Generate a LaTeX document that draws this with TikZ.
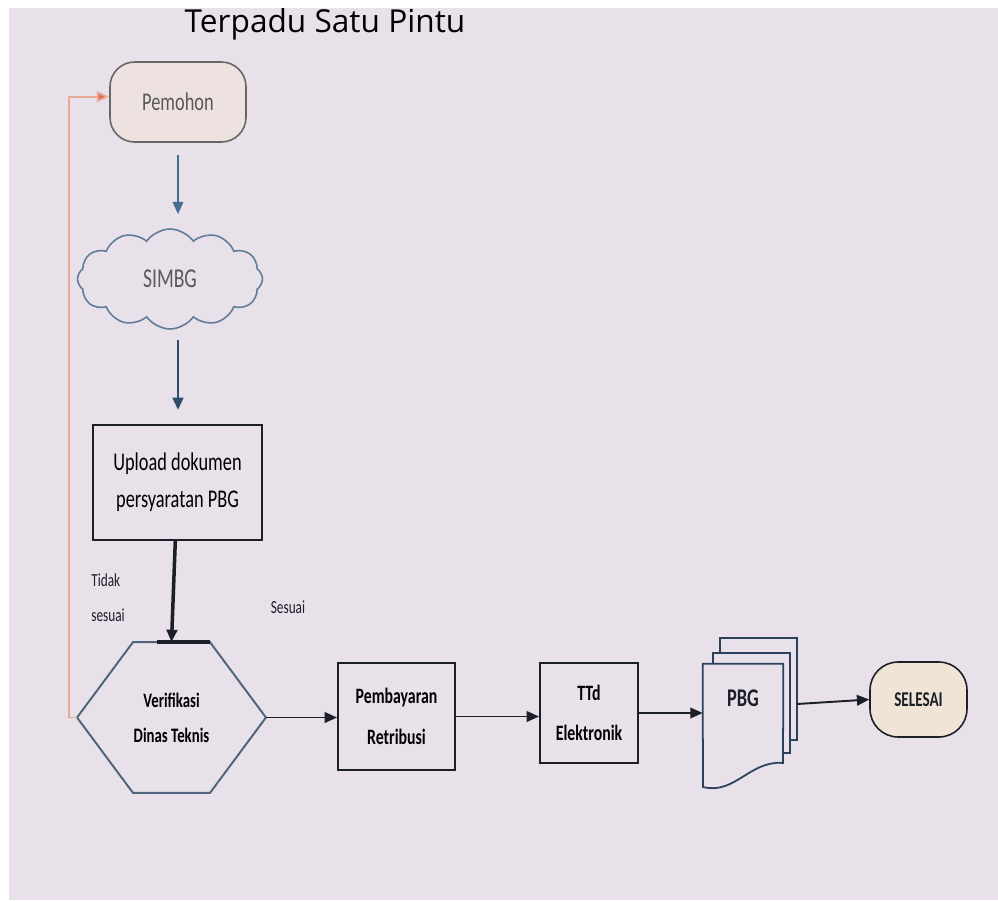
\documentclass[tikz,border=0pt]{standalone}
\usepackage{fontspec}
\usetikzlibrary{shapes.symbols,arrows.meta,calc}
\newfontfamily\diagfont[FakeStretch=0.72]{Carlito}
\newfontfamily\titlefont{Open Sans}
\definecolor{screenbg}{RGB}{232,225,234}
\definecolor{termfill}{RGB}{238,226,224}
\definecolor{endfill}{RGB}{240,228,214}
\definecolor{steel}{RGB}{70,108,148}
\definecolor{cloudline}{RGB}{96,124,152}
\definecolor{inkline}{RGB}{28,30,40}
\definecolor{backline}{RGB}{232,170,150}
\definecolor{backtip}{RGB}{226,108,68}
\tikzset{
  terminal/.style={draw=gray!80!black,fill=termfill,rounded corners=14pt,line width=0.9pt,
    minimum width=2.72cm,minimum height=1.6cm,text=gray!70!black,
    font=\diagfont\fontsize{14.5}{16}\selectfont},
  procbox/.style={draw=inkline,line width=1.1pt,align=center,
    font=\diagfont\bfseries\fontsize{12.5}{23}\selectfont},
  flow/.style={-{Triangle[length=7pt,width=6pt]},line width=1.1pt,draw=inkline},
  remark/.style={align=left,font=\diagfont\fontsize{10.5}{20}\selectfont,text=inkline}
}
\begin{document}
\begin{tikzpicture}[x=0.02cm,y=-0.02cm]
  \useasboundingbox (0,0) rectangle (998,900);
  \fill[white] (0,0) rectangle (998,900);
  \fill[screenbg] (9,8) rectangle (998,900);

  \node[font=\titlefont\fontsize{18}{20}\selectfont] (title) at (325,24) {Terpadu Satu Pintu};

  % left column
  \node[terminal] (pemohon) at (178,102) {Pemohon};
  \node[cloud,cloud puffs=12,cloud puff arc=110,aspect=1.8,draw=cloudline,line width=0.9pt,
    minimum width=3.7cm,minimum height=2.0cm,text=gray!70!black,
    font=\diagfont\fontsize{15.5}{16}\selectfont] (simbg) at (170,279) {SIMBG};
  \node[procbox,font=\diagfont\fontsize{14.5}{21}\selectfont,
    minimum width=3.38cm,minimum height=2.3cm] (upload) at (177.5,482.5)
    {Upload dokumen\\persyaratan PBG};

  % decision, drawn as a flat hexagon round the node
  \node[procbox,draw=none,font=\diagfont\bfseries\fontsize{11.7}{20}\selectfont,
    minimum width=3.74cm,minimum height=2.98cm] (verif) at (171.5,717.5)
    {Verifikasi\\Dinas Teknis};
  \draw[cloudline!80!black,line width=1.1pt]
    (verif.west) -- ($(verif.north west)+(56,0)$) -- ($(verif.north east)+(-56,0)$)
    -- (verif.east) -- ($(verif.south east)+(-56,0)$) -- ($(verif.south west)+(56,0)$) -- cycle;
  \draw[inkline,line width=2pt] ($(verif.north west)+(80,0)$) -- ($(verif.north east)+(-56,0)$);

  % bottom row
  \node[procbox,minimum width=2.34cm,minimum height=2.14cm] (bayar) at (396.5,716.5)
    {Pembayaran\\Retribusi};
  \node[procbox,minimum width=1.96cm,minimum height=2cm] (ttd) at (589,713)
    {TTd\\Elektronik};

  % stacked documents
  \draw[steel!60!black,line width=1pt,fill=screenbg] (720,664) -- (720,638) -- (797,638) -- (797,740) -- (790,740);
  \draw[steel!60!black,line width=1pt,fill=screenbg] (713,664) -- (713,653) -- (790,653) -- (790,753) -- (783,753);
  \node[minimum width=1.6cm,minimum height=2.46cm] (pbg) at (743,725.5) {};
  \draw[steel!60!black,line width=1pt,fill=screenbg] (pbg.north west) -- (pbg.north east) -- (783,763)
    .. controls (750,760) and (735,795) .. (703,787) -- cycle;
  \node[font=\diagfont\bfseries\fontsize{14.5}{16}\selectfont,text=inkline] (pbgtext) at (743,698) {PBG};
  \coordinate (pbgout) at (797,704);

  \node[terminal,fill=endfill,draw=inkline,text=inkline,rounded corners=16pt,
    minimum width=1.94cm,minimum height=1.5cm,
    font=\diagfont\bfseries\fontsize{12}{12}\selectfont] (selesai) at (918.5,699.5) {SELESAI};

  % labels
  \node[remark] (tidak) at (108,598) {Tidak\\sesuai};
  \node[remark] (sesuai) at (288,607) {Sesuai};

  % connectors
  \draw[flow,draw=steel,shorten <=7pt,shorten >=8pt] (pemohon.south) -- (pemohon.south |- simbg.north);
  \draw[flow,draw=steel!70!black,line width=1.5pt,shorten <=6pt,shorten >=8pt]
    (simbg.south -| pemohon.south) -- (pemohon.south |- upload.north);
  \draw[flow,line width=2pt] (upload) -- (verif.north);
  \draw[flow] (verif.east) -- (bayar.west |- verif.east);
  \draw[flow] (bayar.east) -- (ttd.west |- bayar.east);
  \draw[flow] (ttd.east) -- (pbg.west |- ttd.east);
  \draw[flow] (pbgout) -- (selesai.west);
  \draw[backline,line width=1pt,-{Triangle[length=7pt,width=6pt,fill=backtip]}]
    (verif.west) -- ++(-8,0) |- ([yshift=3pt]pemohon.west);% back to applicant
\end{tikzpicture}
\end{document}
